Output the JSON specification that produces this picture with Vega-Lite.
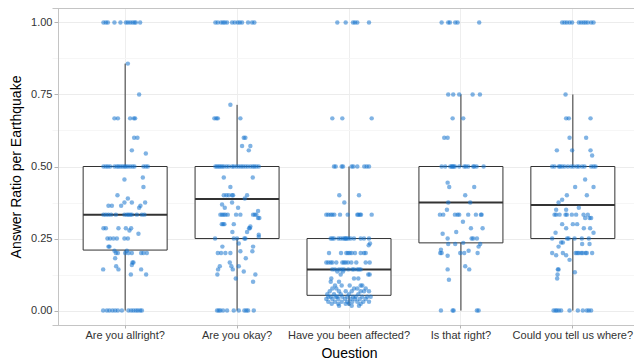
{
  "$schema": "https://vega.github.io/schema/vega-lite/v6.json",
  "width": 576,
  "height": 317,
  "autosize": "none",
  "padding": {"left": 58, "top": 8, "right": 0, "bottom": 33},
  "background": "white",
  "config": {"view": {"stroke": null}, "font": "Liberation Sans"},
  "datasets": {
    "box": [
      {"q": "A", "lo": 0, "q1": 0.21, "med": 0.333, "q3": 0.5, "hi": 0.857},
      {"q": "B", "lo": 0, "q1": 0.25, "med": 0.387, "q3": 0.5, "hi": 0.714},
      {"q": "C", "lo": 0.017, "q1": 0.053, "med": 0.143, "q3": 0.25, "hi": 0.5},
      {"q": "D", "lo": 0, "q1": 0.235, "med": 0.375, "q3": 0.5, "hi": 0.75},
      {"q": "E", "lo": 0, "q1": 0.25, "med": 0.366, "q3": 0.5, "hi": 0.75}
    ],
    "pts": [
      {"q":"A","v":1,"j":-21.7},{"q":"A","v":1,"j":-19.3},{"q":"A","v":1,"j":-17.3},{"q":"A","v":1,"j":-10.7},{"q":"A","v":1,"j":-4.7},{"q":"A","v":1,"j":0.7},{"q":"A","v":1,"j":2.7},{"q":"A","v":1,"j":5},{"q":"A","v":1,"j":7.3},{"q":"A","v":1,"j":9.3},{"q":"A","v":1,"j":10.7},{"q":"A","v":1,"j":15},
      {"q":"A","v":0.857,"j":2.7},{"q":"A","v":0.75,"j":14},
      {"q":"A","v":0.667,"j":-10.7},{"q":"A","v":0.667,"j":-7.3},{"q":"A","v":0.667,"j":5},{"q":"A","v":0.667,"j":8.7},{"q":"A","v":0.667,"j":10},
      {"q":"A","v":0.6,"j":9},{"q":"A","v":0.6,"j":12.3},{"q":"A","v":0.556,"j":6.7},{"q":"A","v":0.545,"j":20.7},
      {"q":"A","v":0.5,"j":-21.7},{"q":"A","v":0.5,"j":-19.3},{"q":"A","v":0.5,"j":-17.3},{"q":"A","v":0.5,"j":-15},{"q":"A","v":0.5,"j":-10.7},{"q":"A","v":0.5,"j":-8.3},{"q":"A","v":0.5,"j":-6.7},{"q":"A","v":0.5,"j":-4.7},{"q":"A","v":0.5,"j":-2.7},{"q":"A","v":0.5,"j":-0.7},{"q":"A","v":0.5,"j":0.7},{"q":"A","v":0.5,"j":2.7},{"q":"A","v":0.5,"j":5},{"q":"A","v":0.5,"j":7.3},{"q":"A","v":0.5,"j":9.3},{"q":"A","v":0.5,"j":18.3},{"q":"A","v":0.5,"j":20.7},{"q":"A","v":0.5,"j":22.7},
      {"q":"A","v":0.462,"j":17.7},{"q":"A","v":0.455,"j":-0.7},{"q":"A","v":0.429,"j":18.3},{"q":"A","v":0.4,"j":-7.7},{"q":"A","v":0.389,"j":2.7},
      {"q":"A","v":0.375,"j":-0.7},{"q":"A","v":0.375,"j":6.7},{"q":"A","v":0.375,"j":20},
      {"q":"A","v":0.364,"j":-16.7},{"q":"A","v":0.364,"j":-13.3},{"q":"A","v":0.364,"j":-4},{"q":"A","v":0.364,"j":15.3},{"q":"A","v":0.357,"j":14},
      {"q":"A","v":0.333,"j":-21.7},{"q":"A","v":0.333,"j":-19.3},{"q":"A","v":0.333,"j":-16.7},{"q":"A","v":0.333,"j":-14},{"q":"A","v":0.333,"j":-9.3},{"q":"A","v":0.333,"j":-0.7},{"q":"A","v":0.333,"j":1.7},{"q":"A","v":0.333,"j":3.3},{"q":"A","v":0.333,"j":5},{"q":"A","v":0.333,"j":6.7},{"q":"A","v":0.333,"j":11.7},{"q":"A","v":0.333,"j":16.7},{"q":"A","v":0.333,"j":19.3},
      {"q":"A","v":0.286,"j":-21.7},{"q":"A","v":0.286,"j":-19.3},{"q":"A","v":0.286,"j":-6.7},{"q":"A","v":0.286,"j":0.7},{"q":"A","v":0.286,"j":6},
      {"q":"A","v":0.278,"j":4.3},{"q":"A","v":0.267,"j":13.3},
      {"q":"A","v":0.25,"j":-17.7},{"q":"A","v":0.25,"j":-15},{"q":"A","v":0.25,"j":-11.7},{"q":"A","v":0.25,"j":-8.3},{"q":"A","v":0.25,"j":-0.7},{"q":"A","v":0.25,"j":2.7},
      {"q":"A","v":0.222,"j":-16.7},{"q":"A","v":0.222,"j":-15.7},{"q":"A","v":0.208,"j":-10.7},{"q":"A","v":0.208,"j":1.7},
      {"q":"A","v":0.2,"j":-9.3},{"q":"A","v":0.2,"j":-7.3},{"q":"A","v":0.2,"j":0},{"q":"A","v":0.2,"j":3.3},{"q":"A","v":0.2,"j":6.7},{"q":"A","v":0.2,"j":16},{"q":"A","v":0.2,"j":18.3},{"q":"A","v":0.2,"j":21.7},
      {"q":"A","v":0.182,"j":-10},{"q":"A","v":0.167,"j":7.3},{"q":"A","v":0.167,"j":8.3},{"q":"A","v":0.158,"j":6.7},{"q":"A","v":0.154,"j":-9},
      {"q":"A","v":0.143,"j":-22},{"q":"A","v":0.143,"j":-6.7},{"q":"A","v":0.143,"j":16},{"q":"A","v":0.125,"j":5.7},{"q":"A","v":0.125,"j":21},
      {"q":"A","v":0,"j":-22},{"q":"A","v":0,"j":-18.3},{"q":"A","v":0,"j":-15.7},{"q":"A","v":0,"j":-12.7},{"q":"A","v":0,"j":-10},{"q":"A","v":0,"j":-7.3},{"q":"A","v":0,"j":-3.3},{"q":"A","v":0,"j":3.3},{"q":"A","v":0,"j":6},{"q":"A","v":0,"j":8.3},{"q":"A","v":0,"j":10.7},{"q":"A","v":0,"j":12.7},{"q":"A","v":0,"j":15},{"q":"A","v":0,"j":16.7},

      {"q":"B","v":1,"j":-21.7},{"q":"B","v":1,"j":-19.3},{"q":"B","v":1,"j":-16},{"q":"B","v":1,"j":-14},{"q":"B","v":1,"j":-12.3},{"q":"B","v":1,"j":-10},{"q":"B","v":1,"j":-5},{"q":"B","v":1,"j":-2.3},{"q":"B","v":1,"j":0.7},{"q":"B","v":1,"j":2.7},{"q":"B","v":1,"j":5},{"q":"B","v":1,"j":11},{"q":"B","v":1,"j":15},{"q":"B","v":1,"j":17.3},
      {"q":"B","v":0.714,"j":-6.7},
      {"q":"B","v":0.667,"j":-22.7},{"q":"B","v":0.667,"j":-20.7},{"q":"B","v":0.667,"j":-19.3},{"q":"B","v":0.667,"j":3.3},
      {"q":"B","v":0.6,"j":6.7},{"q":"B","v":0.6,"j":8.3},{"q":"B","v":0.571,"j":5},{"q":"B","v":0.571,"j":13.3},{"q":"B","v":0.556,"j":11.7},
      {"q":"B","v":0.5,"j":-21.7},{"q":"B","v":0.5,"j":-20},{"q":"B","v":0.5,"j":-18.3},{"q":"B","v":0.5,"j":-16.7},{"q":"B","v":0.5,"j":-15},{"q":"B","v":0.5,"j":-13.3},{"q":"B","v":0.5,"j":-10.7},{"q":"B","v":0.5,"j":-8.3},{"q":"B","v":0.5,"j":-5},{"q":"B","v":0.5,"j":-3.3},{"q":"B","v":0.5,"j":-0.7},{"q":"B","v":0.5,"j":1.7},{"q":"B","v":0.5,"j":4},{"q":"B","v":0.5,"j":6},{"q":"B","v":0.5,"j":8.3},{"q":"B","v":0.5,"j":10.7},{"q":"B","v":0.5,"j":13.3},{"q":"B","v":0.5,"j":15.7},{"q":"B","v":0.5,"j":17.3},{"q":"B","v":0.5,"j":19.3},{"q":"B","v":0.5,"j":21.7},
      {"q":"B","v":0.462,"j":-13.3},{"q":"B","v":0.462,"j":15.7},{"q":"B","v":0.429,"j":-6.7},
      {"q":"B","v":0.4,"j":-13.3},{"q":"B","v":0.4,"j":-10.7},{"q":"B","v":0.4,"j":-8.3},{"q":"B","v":0.4,"j":-5},{"q":"B","v":0.4,"j":-4},{"q":"B","v":0.4,"j":10},
      {"q":"B","v":0.389,"j":7.7},{"q":"B","v":0.375,"j":-5},{"q":"B","v":0.368,"j":-15},{"q":"B","v":0.357,"j":-12.3},{"q":"B","v":0.357,"j":1},{"q":"B","v":0.346,"j":21},
      {"q":"B","v":0.333,"j":-16.7},{"q":"B","v":0.333,"j":-15},{"q":"B","v":0.333,"j":-13.3},{"q":"B","v":0.333,"j":-11.7},{"q":"B","v":0.333,"j":-9.3},{"q":"B","v":0.333,"j":-1},{"q":"B","v":0.333,"j":3.3},{"q":"B","v":0.333,"j":16},{"q":"B","v":0.333,"j":17.7},{"q":"B","v":0.333,"j":19.3},
      {"q":"B","v":0.321,"j":21},{"q":"B","v":0.321,"j":22.3},
      {"q":"B","v":0.3,"j":-15.3},{"q":"B","v":0.3,"j":-14},{"q":"B","v":0.3,"j":-12.7},{"q":"B","v":0.3,"j":-3.3},
      {"q":"B","v":0.292,"j":13.3},{"q":"B","v":0.286,"j":12.7},{"q":"B","v":0.286,"j":12},{"q":"B","v":0.273,"j":-4.7},{"q":"B","v":0.273,"j":10},{"q":"B","v":0.263,"j":21.7},{"q":"B","v":0.256,"j":21.7},
      {"q":"B","v":0.25,"j":-22},{"q":"B","v":0.25,"j":-3.3},{"q":"B","v":0.25,"j":0},{"q":"B","v":0.25,"j":7.3},{"q":"B","v":0.25,"j":8.3},
      {"q":"B","v":0.233,"j":1.7},{"q":"B","v":0.222,"j":-14.7},{"q":"B","v":0.222,"j":16},{"q":"B","v":0.206,"j":3.3},{"q":"B","v":0.206,"j":15.3},
      {"q":"B","v":0.2,"j":-19.3},{"q":"B","v":0.2,"j":-16},{"q":"B","v":0.2,"j":-11.7},{"q":"B","v":0.2,"j":-6.7},
      {"q":"B","v":0.182,"j":8.7},{"q":"B","v":0.167,"j":-7.3},{"q":"B","v":0.154,"j":-17.3},{"q":"B","v":0.154,"j":-5.7},{"q":"B","v":0.154,"j":1.7},
      {"q":"B","v":0.143,"j":-19},{"q":"B","v":0.143,"j":-4.3},{"q":"B","v":0.136,"j":6.7},{"q":"B","v":0.125,"j":-19.7},{"q":"B","v":0.125,"j":18.3},{"q":"B","v":0.111,"j":-1.3},{"q":"B","v":0.1,"j":16},
      {"q":"B","v":0,"j":-20},{"q":"B","v":0,"j":-18.3},{"q":"B","v":0,"j":-16.7},{"q":"B","v":0,"j":-14},{"q":"B","v":0,"j":-10},{"q":"B","v":0,"j":-3.3},{"q":"B","v":0,"j":1.7},{"q":"B","v":0,"j":7.3},{"q":"B","v":0,"j":9.3},{"q":"B","v":0,"j":11},{"q":"B","v":0,"j":16.7},

      {"q":"C","v":1,"j":-11.7},{"q":"C","v":1,"j":-3.3},{"q":"C","v":1,"j":4},{"q":"C","v":1,"j":6},{"q":"C","v":1,"j":8.3},{"q":"C","v":1,"j":20},
      {"q":"C","v":0.667,"j":-16.7},{"q":"C","v":0.667,"j":-6.7},{"q":"C","v":0.667,"j":22.7},
      {"q":"C","v":0.5,"j":-15},{"q":"C","v":0.5,"j":-13.3},{"q":"C","v":0.5,"j":-7.3},{"q":"C","v":0.5,"j":-6},{"q":"C","v":0.5,"j":2.7},{"q":"C","v":0.5,"j":4.3},{"q":"C","v":0.5,"j":8.3},{"q":"C","v":0.5,"j":15.3},{"q":"C","v":0.5,"j":17.7},{"q":"C","v":0.5,"j":20},
      {"q":"C","v":0.4,"j":-9.7},{"q":"C","v":0.4,"j":10},{"q":"C","v":0.375,"j":-4.7},
      {"q":"C","v":0.333,"j":-22.7},{"q":"C","v":0.333,"j":-20.7},{"q":"C","v":0.333,"j":-18.3},{"q":"C","v":0.333,"j":-16.7},{"q":"C","v":0.333,"j":-14.7},{"q":"C","v":0.333,"j":-9},{"q":"C","v":0.333,"j":-1.3},{"q":"C","v":0.333,"j":8.3},{"q":"C","v":0.333,"j":9.3},{"q":"C","v":0.333,"j":11},{"q":"C","v":0.333,"j":12},{"q":"C","v":0.333,"j":22.7},
      {"q":"C","v":0.25,"j":-18.3},{"q":"C","v":0.25,"j":-16.7},{"q":"C","v":0.25,"j":-15},{"q":"C","v":0.25,"j":-10.7},{"q":"C","v":0.25,"j":-8.3},{"q":"C","v":0.25,"j":-6},{"q":"C","v":0.25,"j":-4.3},{"q":"C","v":0.25,"j":-3.3},{"q":"C","v":0.25,"j":-2.3},{"q":"C","v":0.25,"j":-0.7},{"q":"C","v":0.25,"j":1.7},{"q":"C","v":0.25,"j":5},{"q":"C","v":0.25,"j":11.7},{"q":"C","v":0.25,"j":15},{"q":"C","v":0.25,"j":20},
      {"q":"C","v":0.233,"j":21},{"q":"C","v":0.227,"j":19.7},
      {"q":"C","v":0.2,"j":-20},{"q":"C","v":0.2,"j":-8},{"q":"C","v":0.2,"j":-2.7},{"q":"C","v":0.2,"j":-1},{"q":"C","v":0.2,"j":0.7},{"q":"C","v":0.2,"j":2.7},{"q":"C","v":0.2,"j":6},{"q":"C","v":0.2,"j":11.7},{"q":"C","v":0.2,"j":15},{"q":"C","v":0.2,"j":16.7},
      {"q":"C","v":0.167,"j":-22.7},{"q":"C","v":0.167,"j":-20.7},{"q":"C","v":0.167,"j":-18.3},{"q":"C","v":0.167,"j":-16.7},{"q":"C","v":0.167,"j":-12.7},{"q":"C","v":0.167,"j":-6.7},{"q":"C","v":0.167,"j":-5},{"q":"C","v":0.167,"j":-3.3},{"q":"C","v":0.167,"j":-1},{"q":"C","v":0.167,"j":2.3},{"q":"C","v":0.167,"j":7.3},{"q":"C","v":0.167,"j":16.7},{"q":"C","v":0.167,"j":20.7},
      {"q":"C","v":0.143,"j":-16.7},{"q":"C","v":0.143,"j":-14},{"q":"C","v":0.143,"j":-10},{"q":"C","v":0.143,"j":-7.3},{"q":"C","v":0.143,"j":-5},{"q":"C","v":0.143,"j":-0.7},{"q":"C","v":0.143,"j":3.3},{"q":"C","v":0.143,"j":5},{"q":"C","v":0.143,"j":8.3},{"q":"C","v":0.143,"j":10},{"q":"C","v":0.143,"j":11.7},
      {"q":"C","v":0.136,"j":-11.7},{"q":"C","v":0.136,"j":-6},{"q":"C","v":0.125,"j":19.3},{"q":"C","v":0.125,"j":20.7},{"q":"C","v":0.125,"j":-8.3},
      {"q":"C","v":0.111,"j":-17.7},{"q":"C","v":0.111,"j":5},{"q":"C","v":0.111,"j":9.3},{"q":"C","v":0.1,"j":-18.3},{"q":"C","v":0.1,"j":-10},
      {"q":"C","v":0.087,"j":0.7},{"q":"C","v":0.087,"j":11.7},{"q":"C","v":0.087,"j":13.3},{"q":"C","v":0.087,"j":-14},{"q":"C","v":0.087,"j":-7.3},
      {"q":"C","v":0.077,"j":-16.7},{"q":"C","v":0.077,"j":-12.7},{"q":"C","v":0.077,"j":5},{"q":"C","v":0.077,"j":8.3},{"q":"C","v":0.077,"j":16.7},
      {"q":"C","v":0.067,"j":-19.3},{"q":"C","v":0.067,"j":-10},{"q":"C","v":0.067,"j":-3.3},{"q":"C","v":0.067,"j":2.7},{"q":"C","v":0.067,"j":11.7},{"q":"C","v":0.067,"j":15},{"q":"C","v":0.067,"j":20},
      {"q":"C","v":0.057,"j":-21.7},{"q":"C","v":0.057,"j":-15},{"q":"C","v":0.057,"j":-8.3},{"q":"C","v":0.057,"j":0},{"q":"C","v":0.057,"j":9.3},
      {"q":"C","v":0.048,"j":-20.7},{"q":"C","v":0.048,"j":-18.3},{"q":"C","v":0.048,"j":-13.3},{"q":"C","v":0.048,"j":-11.7},{"q":"C","v":0.048,"j":-6.7},{"q":"C","v":0.048,"j":-1.7},{"q":"C","v":0.048,"j":4},{"q":"C","v":0.048,"j":6.7},{"q":"C","v":0.048,"j":13.3},{"q":"C","v":0.048,"j":18.3},{"q":"C","v":0.048,"j":21.7},
      {"q":"C","v":0.04,"j":-22.7},{"q":"C","v":0.04,"j":-16.7},{"q":"C","v":0.04,"j":-10.7},{"q":"C","v":0.04,"j":-4},{"q":"C","v":0.04,"j":1.7},{"q":"C","v":0.04,"j":6},{"q":"C","v":0.04,"j":10.7},{"q":"C","v":0.04,"j":16.7},
      {"q":"C","v":0.031,"j":-20.7},{"q":"C","v":0.031,"j":-14},{"q":"C","v":0.031,"j":-7.3},{"q":"C","v":0.031,"j":-1.7},{"q":"C","v":0.031,"j":3.3},{"q":"C","v":0.031,"j":8.3},{"q":"C","v":0.031,"j":14.3},{"q":"C","v":0.031,"j":20},
      {"q":"C","v":0.024,"j":-17.3},{"q":"C","v":0.024,"j":-10.7},{"q":"C","v":0.024,"j":-3.3},{"q":"C","v":0.024,"j":0},{"q":"C","v":0.024,"j":11.7},
      {"q":"C","v":0.017,"j":-10},{"q":"C","v":0.017,"j":2.7},{"q":"C","v":0.017,"j":10},

      {"q":"D","v":1,"j":-19.3},{"q":"D","v":1,"j":-12.7},{"q":"D","v":1,"j":-11},{"q":"D","v":1,"j":-5.7},{"q":"D","v":1,"j":-3.3},{"q":"D","v":1,"j":18.3},
      {"q":"D","v":0.75,"j":-12.7},{"q":"D","v":0.75,"j":-7.7},{"q":"D","v":0.75,"j":-1.7},{"q":"D","v":0.75,"j":11.7},{"q":"D","v":0.75,"j":19},
      {"q":"D","v":0.667,"j":-8.3},{"q":"D","v":0.667,"j":2.3},{"q":"D","v":0.6,"j":-16.7},{"q":"D","v":0.6,"j":-13.3},
      {"q":"D","v":0.5,"j":-19.3},{"q":"D","v":0.5,"j":-15.7},{"q":"D","v":0.5,"j":-10.7},{"q":"D","v":0.5,"j":-9.3},{"q":"D","v":0.5,"j":-8.3},{"q":"D","v":0.5,"j":-7.3},{"q":"D","v":0.5,"j":-6},{"q":"D","v":0.5,"j":-1.7},{"q":"D","v":0.5,"j":3.3},{"q":"D","v":0.5,"j":5},{"q":"D","v":0.5,"j":7.3},{"q":"D","v":0.5,"j":12.3},{"q":"D","v":0.5,"j":13.3},{"q":"D","v":0.5,"j":15.7},{"q":"D","v":0.5,"j":22.7},
      {"q":"D","v":0.444,"j":-13.3},{"q":"D","v":0.429,"j":-11.7},{"q":"D","v":0.429,"j":13.3},{"q":"D","v":0.4,"j":4.3},{"q":"D","v":0.375,"j":-12.7},{"q":"D","v":0.375,"j":9.3},{"q":"D","v":0.35,"j":-14},
      {"q":"D","v":0.333,"j":-21},{"q":"D","v":0.333,"j":-17.7},{"q":"D","v":0.333,"j":-6},{"q":"D","v":0.333,"j":-3.3},{"q":"D","v":0.333,"j":-1.7},{"q":"D","v":0.333,"j":7.3},{"q":"D","v":0.333,"j":15},{"q":"D","v":0.333,"j":20},{"q":"D","v":0.333,"j":20.7},
      {"q":"D","v":0.308,"j":2},{"q":"D","v":0.286,"j":10},{"q":"D","v":0.286,"j":21.7},{"q":"D","v":0.273,"j":-4.7},{"q":"D","v":0.267,"j":-18.3},
      {"q":"D","v":0.25,"j":-13.3},{"q":"D","v":0.25,"j":10.7},{"q":"D","v":0.25,"j":12.3},{"q":"D","v":0.25,"j":16},
      {"q":"D","v":0.235,"j":2.3},{"q":"D","v":0.231,"j":-12.7},{"q":"D","v":0.231,"j":-5.7},{"q":"D","v":0.231,"j":19.3},{"q":"D","v":0.222,"j":17.7},{"q":"D","v":0.211,"j":-20},{"q":"D","v":0.208,"j":7.7},
      {"q":"D","v":0.2,"j":-20.7},{"q":"D","v":0.2,"j":-19.3},{"q":"D","v":0.2,"j":-0.7},{"q":"D","v":0.2,"j":3.3},{"q":"D","v":0.2,"j":16.7},
      {"q":"D","v":0.19,"j":-13.3},{"q":"D","v":0.154,"j":4.3},{"q":"D","v":0.143,"j":-13.3},{"q":"D","v":0.143,"j":8.3},{"q":"D","v":0.107,"j":-12},
      {"q":"D","v":0,"j":-20},{"q":"D","v":0,"j":-8.3},{"q":"D","v":0,"j":-7.3},{"q":"D","v":0,"j":16},{"q":"D","v":0,"j":17.7},

      {"q":"E","v":1,"j":-10.7},{"q":"E","v":1,"j":-8.3},{"q":"E","v":1,"j":-6},{"q":"E","v":1,"j":-3.3},{"q":"E","v":1,"j":-0.7},{"q":"E","v":1,"j":6},{"q":"E","v":1,"j":8.3},{"q":"E","v":1,"j":10.7},{"q":"E","v":1,"j":12.7},{"q":"E","v":1,"j":15},{"q":"E","v":1,"j":18.3},{"q":"E","v":1,"j":20.7},
      {"q":"E","v":0.75,"j":-7.3},{"q":"E","v":0.667,"j":-6.7},{"q":"E","v":0.667,"j":-4},{"q":"E","v":0.667,"j":17.7},{"q":"E","v":0.6,"j":-3.3},{"q":"E","v":0.6,"j":13.3},
      {"q":"E","v":0.556,"j":-16},{"q":"E","v":0.556,"j":-0.7},{"q":"E","v":0.556,"j":17.7},{"q":"E","v":0.538,"j":19.3},
      {"q":"E","v":0.5,"j":-20.7},{"q":"E","v":0.5,"j":-18.3},{"q":"E","v":0.5,"j":-14},{"q":"E","v":0.5,"j":-12.7},{"q":"E","v":0.5,"j":-10.7},{"q":"E","v":0.5,"j":-8.3},{"q":"E","v":0.5,"j":-5},{"q":"E","v":0.5,"j":-1.7},{"q":"E","v":0.5,"j":0.7},{"q":"E","v":0.5,"j":4},{"q":"E","v":0.5,"j":6},{"q":"E","v":0.5,"j":9.3},{"q":"E","v":0.5,"j":11.7},{"q":"E","v":0.5,"j":18.3},{"q":"E","v":0.5,"j":20.7},{"q":"E","v":0.5,"j":22.7},
      {"q":"E","v":0.455,"j":12.3},{"q":"E","v":0.429,"j":2.3},{"q":"E","v":0.429,"j":20.7},{"q":"E","v":0.4,"j":-6},{"q":"E","v":0.4,"j":14},{"q":"E","v":0.385,"j":-10.7},{"q":"E","v":0.375,"j":-14.3},{"q":"E","v":0.357,"j":6},{"q":"E","v":0.35,"j":-16.7},{"q":"E","v":0.35,"j":-6.7},
      {"q":"E","v":0.333,"j":-18.3},{"q":"E","v":0.333,"j":-16.7},{"q":"E","v":0.333,"j":-13.3},{"q":"E","v":0.333,"j":-7.3},{"q":"E","v":0.333,"j":-6},{"q":"E","v":0.333,"j":-1},{"q":"E","v":0.333,"j":3.3},{"q":"E","v":0.333,"j":10.7},{"q":"E","v":0.333,"j":15},
      {"q":"E","v":0.321,"j":12.3},{"q":"E","v":0.321,"j":18.3},{"q":"E","v":0.321,"j":16.7},
      {"q":"E","v":0.3,"j":0},{"q":"E","v":0.3,"j":4.3},{"q":"E","v":0.3,"j":-10.7},{"q":"E","v":0.286,"j":-6.7},{"q":"E","v":0.286,"j":11},{"q":"E","v":0.286,"j":17.3},{"q":"E","v":0.27,"j":-17.3},{"q":"E","v":0.27,"j":20.7},
      {"q":"E","v":0.25,"j":-20.7},{"q":"E","v":0.25,"j":-5.7},{"q":"E","v":0.25,"j":-4.3},{"q":"E","v":0.25,"j":1.7},{"q":"E","v":0.25,"j":9},{"q":"E","v":0.25,"j":16},
      {"q":"E","v":0.236,"j":-10},{"q":"E","v":0.236,"j":-11.7},{"q":"E","v":0.231,"j":16.7},{"q":"E","v":0.231,"j":9.3},{"q":"E","v":0.222,"j":-14.3},
      {"q":"E","v":0.2,"j":-20.7},{"q":"E","v":0.2,"j":-10},{"q":"E","v":0.2,"j":2.7},{"q":"E","v":0.2,"j":4.3},{"q":"E","v":0.2,"j":6},{"q":"E","v":0.2,"j":8.3},{"q":"E","v":0.2,"j":10},{"q":"E","v":0.2,"j":12.7},{"q":"E","v":0.2,"j":14},{"q":"E","v":0.2,"j":19.3},
      {"q":"E","v":0.192,"j":-16.7},{"q":"E","v":0.192,"j":-6.7},{"q":"E","v":0.176,"j":-3.3},{"q":"E","v":0.143,"j":-15},{"q":"E","v":0.143,"j":-14.3},{"q":"E","v":0.133,"j":2},{"q":"E","v":0.125,"j":-15.3},{"q":"E","v":0.111,"j":-15.7},
      {"q":"E","v":0,"j":-19.3},{"q":"E","v":0,"j":-17.3},{"q":"E","v":0,"j":-16},{"q":"E","v":0,"j":-14},{"q":"E","v":0,"j":-11.7},{"q":"E","v":0,"j":-3.3},{"q":"E","v":0,"j":5},{"q":"E","v":0,"j":10},{"q":"E","v":0,"j":14},{"q":"E","v":0,"j":16},{"q":"E","v":0,"j":18.3}
    ]
  },
  "encoding": {
    "x": {
      "field": "q", "type": "nominal",
      "scale": {"range": [0, 582], "paddingInner": 0, "paddingOuter": 0.1},
      "axis": {
        "title": "Question",
        "labelExpr": "datum.value == 'A' ? 'Are you allright?' : datum.value == 'B' ? 'Are you okay?' : datum.value == 'C' ? 'Have you been affected?' : datum.value == 'D' ? 'Is that right?' : 'Could you tell us where?'",
        "labelAngle": 0, "labelFontSize": 11, "labelColor": "#333333", "labelPadding": 1,
        "tickSize": 3, "tickColor": "#b3b3b3", "bandPosition": 0.5,
        "domain": false, "grid": true, "gridColor": "#eeeeee", "gridWidth": 1,
        "titleFontSize": 14, "titleFontWeight": "normal", "titleColor": "#000000", "titlePadding": 6
      }
    }
  },
  "resolve": {"axis": {"y": "independent"}},
  "layer": [
    {
      "data": {"name": "box"},
      "mark": {"type": "rule", "color": "#333333", "strokeWidth": 1},
      "encoding": {
        "y": {
          "field": "q3", "type": "quantitative",
          "scale": {"domain": [-0.05, 1.05], "nice": false, "zero": false},
          "axis": {
            "orient": "left",
            "title": "Answer Ratio per Earthquake",
            "values": [0, 0.25, 0.5, 0.75, 1],
            "format": ".2f",
            "labelFontSize": 11, "labelColor": "#333333", "labelPadding": 2,
            "tickSize": 4, "tickColor": "#b3b3b3",
            "domain": true, "domainColor": "#c4c4c4",
            "grid": true, "gridColor": "#ececec", "gridWidth": 1,
            "titleFontSize": 14, "titleFontWeight": "normal", "titleColor": "#000000", "titlePadding": 7
          }
        },
        "y2": {"field": "hi"}
      }
    },
    {
      "data": {"name": "box"},
      "mark": {"type": "rule", "color": "#333333", "strokeWidth": 1},
      "encoding": {"y": {"field": "lo", "type": "quantitative", "axis": null}, "y2": {"field": "q1"}}
    },
    {
      "data": {"name": "box"},
      "mark": {"type": "bar", "fill": "white", "stroke": "#333333", "strokeWidth": 1, "width": 84},
      "encoding": {"y": {"field": "q1", "type": "quantitative", "axis": null}, "y2": {"field": "q3"}}
    },
    {
      "data": {"name": "box"},
      "mark": {"type": "bar", "fill": "none", "stroke": "#333333", "strokeWidth": 2, "width": 84},
      "encoding": {"y": {"field": "med", "type": "quantitative", "axis": null}, "y2": {"field": "med"}}
    },
    {
      "data": {"name": "pts"},
      "mark": {"type": "circle", "size": 20, "color": "#1874CD", "opacity": 0.55, "strokeWidth": 0},
      "encoding": {
        "y": {
          "field": "v", "type": "quantitative",
          "axis": {
            "orient": "right", "title": null,
            "values": [-0.05, 0.125, 0.375, 0.625, 0.875, 1.05],
            "labels": false, "ticks": false, "domain": false,
            "grid": true, "gridWidth": 1,
            "gridColor": {"condition": {"test": "datum.value < -0.01 || datum.value > 1.01", "value": "#c4c4c4"}, "value": "#f6f6f6"}
          }
        },
        "xOffset": {"field": "j", "type": "quantitative", "scale": {"domain": [-56, 56], "nice": false, "zero": false}}
      }
    }
  ]
}
